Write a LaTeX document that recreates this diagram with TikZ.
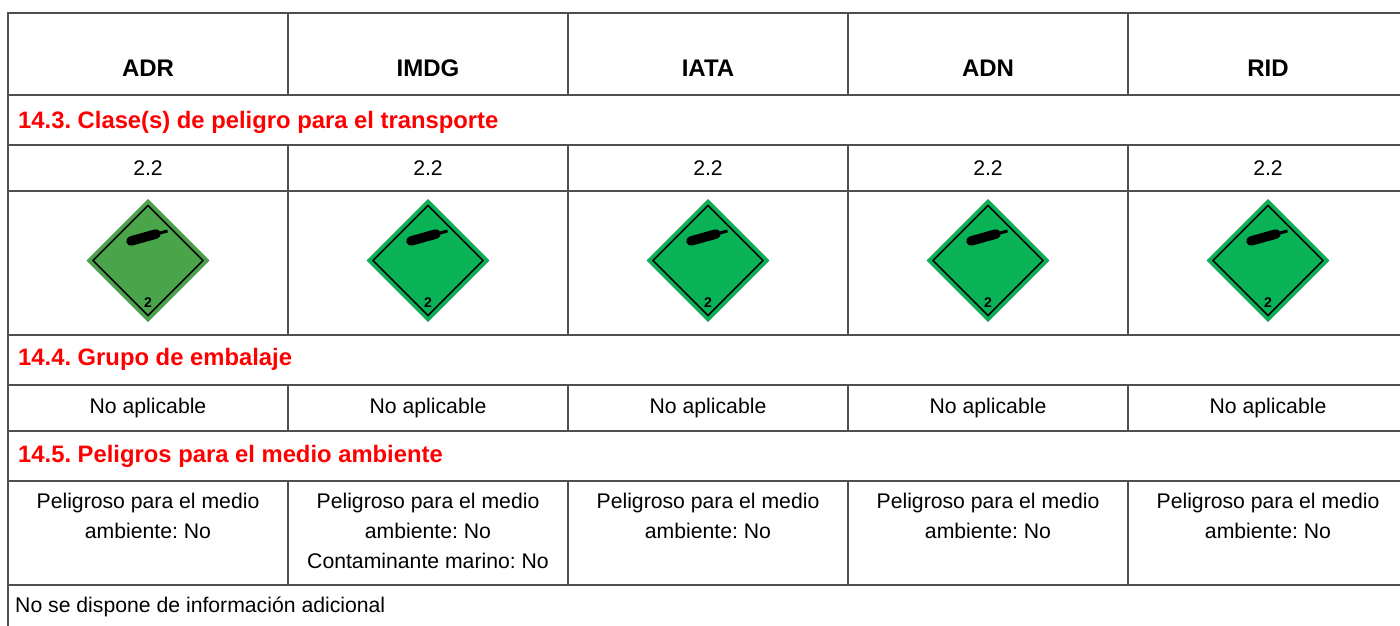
\documentclass[tikz,border=0pt]{standalone}
\usepackage{fontspec}
\setmainfont{Liberation Sans}
\frenchspacing
\definecolor{secred}{RGB}{255,0,0}
\definecolor{gasgreen}{RGB}{10,178,86}
\definecolor{gasdull}{RGB}{74,164,74}
\definecolor{rulegray}{RGB}{80,80,80}
\begin{document}
\begin{tikzpicture}[x=1pt,y=-1pt,
	rule/.style={rulegray,line width=1.3pt},
	head/.style={anchor=base,inner sep=0pt,font=\bfseries\fontsize{24}{28}\selectfont},
	section/.style={anchor=base west,inner sep=0pt,text=secred,font=\bfseries\fontsize{23.8}{28}\selectfont},
	cell/.style={anchor=base,inner sep=0pt,font=\fontsize{21.2}{25}\selectfont},
	note/.style={anchor=north,inner sep=0pt,align=center,font=\fontsize{21.2}{30}\selectfont},
	classno/.style={inner sep=0pt,font=\bfseries\fontsize{14}{14}\selectfont}]
	\useasboundingbox (0,0) rectangle (1400,626);
	% table rules
	\draw[rule] (8,626) -- (8,13) -- (1400,13);
	\foreach \y in {95,145,191,335,385,431,481,585}
	\draw[rule] (8,\y) -- (1400,\y);
	\foreach \x in {288,568,848,1128} {
		\draw[rule] (\x,13) -- (\x,95);
		\draw[rule] (\x,145) -- (\x,335);
		\draw[rule] (\x,385) -- (\x,431);
		\draw[rule] (\x,481) -- (\x,585);
	}
	% sections
	\node[section] (s3) at (18,128) {14.3. Clase(s) de peligro para el transporte};
	\node[section] (s4) at (18,365) {14.4. Grupo de embalaje};
	\node[section] (s5) at (18,462) {14.5. Peligros para el medio ambiente};
	% columns
	\foreach \i/\m/\c in {0/ADR/gasdull,1/IMDG/gasgreen,2/IATA/gasgreen,3/ADN/gasgreen,4/RID/gasgreen} {
		\node[head] (h\i) at (148+280*\i,77) {\m};
		\node[cell] (cl\i) at (148+280*\i,175) {2.2};
		\node[cell] (pg\i) at (148+280*\i,413) {No aplicable};
		\begin{scope}[shift={(148+280*\i,260.5)}]
			\fill[\c,draw=\c!85!black,line width=0.6pt] (0,-61) -- (61,0) -- (0,61) -- (-61,0) -- cycle;
			\draw[black,line width=1.5pt] (0,-55) -- (55,0) -- (0,55) -- (-55,0) -- cycle;
			\draw[black,line width=9.5pt,line cap=round] (-17,-19.5) -- (8,-26.5);
			\draw[black,line width=3pt] (8,-26.5) -- (19.5,-29.5);
			\node[classno] (n\i) at (0,42) {2};
		\end{scope}
	}
	\node[note] (e0) at (148,493) {Peligroso para el medio\\ambiente: No};
	\node[note] (e1) at (428,493) {Peligroso para el medio\\ambiente: No\\Contaminante marino: No};
	\node[note] (e2) at (708,493) {Peligroso para el medio\\ambiente: No};
	\node[note] (e3) at (988,493) {Peligroso para el medio\\ambiente: No};
	\node[note] (e4) at (1268,493) {Peligroso para el medio\\ambiente: No};
	\node[anchor=base west,inner sep=0pt,font=\fontsize{21.2}{25}\selectfont] (info) at (15,612) {No se dispone de información adicional};
\end{tikzpicture}
\end{document}
